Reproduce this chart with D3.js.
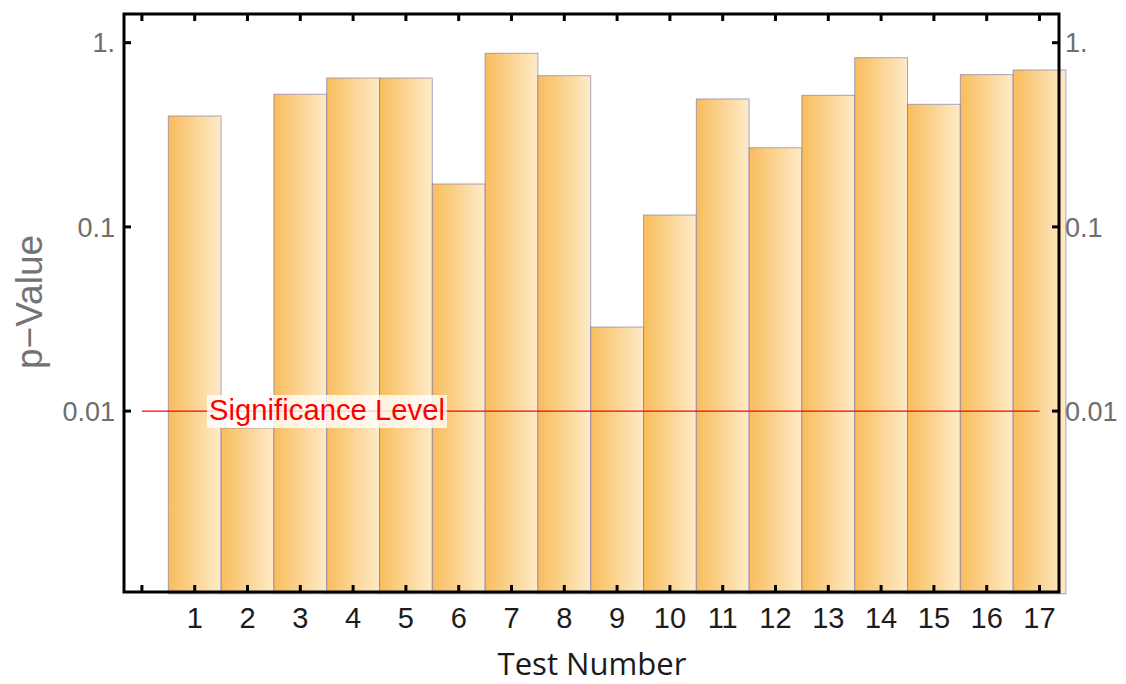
<!DOCTYPE html>
<html>
<head>
<meta charset="utf-8">
<script src="https://cdn.jsdelivr.net/npm/d3@7"></script>
<style>
  body { margin: 0; background: #fff; }
  svg { display: block; }
</style>
</head>
<body>
<script>
// test numbers and their p-values
const tests = [1, 2, 3, 4, 5, 6, 7, 8, 9, 10, 11, 12, 13, 14, 15, 16, 17];
const pValues = [0.400, 0.0081, 0.525, 0.643, 0.643, 0.171, 0.876, 0.662, 0.0286,
                 0.116, 0.495, 0.269, 0.518, 0.829, 0.463, 0.671, 0.711];
const yTicks = [1, 0.1, 0.01];
const yTickLabels = ["1.", "0.1", "0.01"];
const xTicks = [0, 1, 2, 3, 4, 5, 6, 7, 8, 9, 10, 11, 12, 13, 14, 15, 16, 17];
const significance = 0.01;
const sigLabel = "Significance Level";

const W = 1126, H = 684;
const frame = { left: 124, right: 1059, top: 14, bottom: 592 };

const svg = d3.select("body").append("svg")
    .attr("xmlns", "http://www.w3.org/2000/svg")
    .attr("width", W)
    .attr("height", H);

// scales: log y, linear x over test number
const y = d3.scaleLog().domain([0.001, 1]).range([595.3, 42.7]);
const x = d3.scaleLinear().domain([1, 17]).range([194.7, 1039.5]);
const barW = x(2) - x(1);

// bar gradient
const grad = svg.append("defs").append("linearGradient")
    .attr("id", "barGrad")
    .attr("x1", "0").attr("x2", "1").attr("y1", "0").attr("y2", "0");
grad.append("stop").attr("offset", "0%").attr("stop-color", "#f8bd5c");
grad.append("stop").attr("offset", "100%").attr("stop-color", "#feebc9");

const data = tests.map((t, i) => ({ t: t, p: pValues[i] }));

// bars
svg.append("g")
    .selectAll("rect")
    .data(data)
    .join("rect")
    .attr("x", d => x(d.t) - barW / 2)
    .attr("y", d => y(d.p))
    .attr("width", barW)
    .attr("height", d => frame.bottom + 1.8 - y(d.p))
    .attr("fill", "url(#barGrad)")
    .attr("stroke", "#736db0")
    .attr("stroke-opacity", 0.6)
    .attr("stroke-width", 1);

// significance line
svg.append("line")
    .attr("x1", x(0)).attr("x2", x(17))
    .attr("y1", y(significance)).attr("y2", y(significance))
    .attr("stroke", "#ff0000")
    .attr("stroke-width", 1.3);

// significance label with translucent background
const labelG = svg.append("g");
const labelBg = labelG.append("rect");
const label = labelG.append("text")
    .attr("x", 327)
    .attr("y", 420)
    .attr("text-anchor", "middle")
    .style("font-family", "'Liberation Sans', Arial, sans-serif")
    .style("font-size", "25px")
    .style("fill", "#ff0000")
    .text(sigLabel);
let lw = label.node().getComputedTextLength();
label.style("font-size", (25 * 236 / lw) + "px");
lw = label.node().getComputedTextLength();
labelBg
    .attr("x", 327 - lw / 2 - 2)
    .attr("y", 395)
    .attr("width", lw + 4)
    .attr("height", 33)
    .attr("fill", "#ffffff")
    .attr("fill-opacity", 0.8);

// frame
svg.append("rect")
    .attr("x", frame.left)
    .attr("y", frame.top)
    .attr("width", frame.right - frame.left)
    .attr("height", frame.bottom - frame.top)
    .attr("fill", "none")
    .attr("stroke", "#000")
    .attr("stroke-width", 3);

// ticks, pointing inward on all sides
const tickLen = 7;
const ticks = svg.append("g").attr("stroke", "#000").attr("stroke-width", 3);
xTicks.forEach(t => {
    ticks.append("line").attr("x1", x(t)).attr("x2", x(t))
        .attr("y1", frame.top).attr("y2", frame.top + tickLen);
    ticks.append("line").attr("x1", x(t)).attr("x2", x(t))
        .attr("y1", frame.bottom).attr("y2", frame.bottom - tickLen);
});
yTicks.forEach(v => {
    ticks.append("line").attr("x1", frame.left).attr("x2", frame.left + tickLen)
        .attr("y1", y(v)).attr("y2", y(v));
    ticks.append("line").attr("x1", frame.right).attr("x2", frame.right - tickLen)
        .attr("y1", y(v)).attr("y2", y(v));
});

// y tick labels (left and right)
const yLab = svg.append("g")
    .style("font-family", "'Liberation Sans', Arial, sans-serif")
    .style("font-size", "27px")
    .style("fill", "#6e6e6e");
yTicks.forEach((v, i) => {
    yLab.append("text")
        .attr("x", 115).attr("y", y(v))
        .attr("dy", "0.36em")
        .attr("text-anchor", "end")
        .text(yTickLabels[i]);
    yLab.append("text")
        .attr("x", 1065).attr("y", y(v))
        .attr("dy", "0.36em")
        .attr("text-anchor", "start")
        .text(yTickLabels[i]);
});

// x tick labels
svg.append("g")
    .style("font-family", "'Liberation Sans', Arial, sans-serif")
    .style("font-size", "29px")
    .style("fill", "#1c1c1c")
    .selectAll("text")
    .data(tests)
    .join("text")
    .attr("x", d => x(d))
    .attr("y", 628)
    .attr("text-anchor", "middle")
    .text(d => d);

// axis titles
svg.append("text")
    .attr("transform", "translate(42,302) rotate(-90)")
    .attr("text-anchor", "middle")
    .style("font-family", "'Liberation Sans', Arial, sans-serif")
    .style("font-size", "37px")
    .style("fill", "#737373")
    .text("p\u2212Value");

const xTitle = svg.append("text")
    .attr("x", 592)
    .attr("y", 675)
    .attr("text-anchor", "middle")
    .style("font-family", "'Open Sans', 'Noto Sans', sans-serif")
    .style("font-size", "28px")
    .style("fill", "#1a1a1a")
    .text("Test Number");
const tw = xTitle.node().getComputedTextLength();
xTitle.style("font-size", (28 * 189 / tw) + "px");
</script>
</body>
</html>
